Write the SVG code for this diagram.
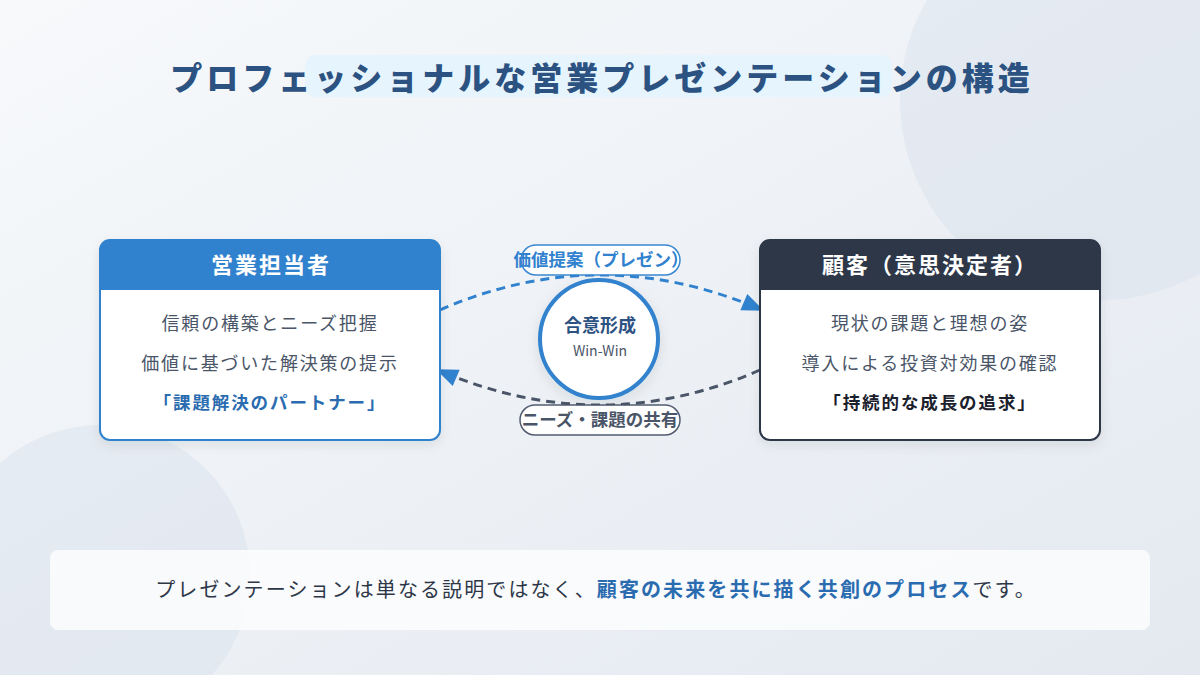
<svg xmlns="http://www.w3.org/2000/svg" width="1200" height="675" viewBox="0 0 1200 675">
<defs>
<linearGradient id="bg" x1="0" y1="0" x2="1" y2="1">
<stop offset="0" stop-color="#f7f9fb"/>
<stop offset="1" stop-color="#e4e9f0"/>
</linearGradient>
<filter id="sh" x="-10%" y="-10%" width="120%" height="130%">
<feDropShadow dx="0" dy="4" stdDeviation="6" flood-color="#1a2a40" flood-opacity="0.10"/>
</filter>
<marker id="ah" viewBox="0 0 10 10" refX="9" refY="5" markerWidth="24" markerHeight="22" markerUnits="userSpaceOnUse" orient="auto">
<path d="M0,1 L10,5 L0,9 Z" fill="#3182ce"/>
</marker>
<style>
text{font-family:"Noto Sans CJK JP","Noto Sans",sans-serif;text-anchor:middle}
.title{font-size:32px;font-weight:900;fill:#2c5282;letter-spacing:4px}
.hdr{font-size:22px;font-weight:700;fill:#ffffff;letter-spacing:2px}
.body{font-size:18px;fill:#4a5568;letter-spacing:1.8px}
.keyL{font-size:17.5px;font-weight:700;fill:#2b6cb0;letter-spacing:1.9px}
.keyR{font-size:17.5px;font-weight:700;fill:#1a202c;letter-spacing:1.9px}
.lbl{font-size:17.5px;font-weight:700}
.foot{font-size:20px;fill:#2d3748;letter-spacing:2.1px}
.conn{fill:none;stroke-width:3;stroke-dasharray:9 6}
</style>
</defs>
<rect width="1200" height="675" fill="url(#bg)"/>
<circle cx="1100" cy="100" r="200" fill="#d5deea" opacity="0.4"/>
<circle cx="100" cy="575" r="150" fill="#d5deea" opacity="0.4"/>

<g id="title">
<rect x="305" y="55" width="587" height="42" rx="10" fill="#e6f4fd"/>
<text class="title" x="602" y="90">プロフェッショナルな営業プレゼンテーションの構造</text>
</g>

<g id="connectors">
<path class="conn" d="M440,310 Q600,240 762,310" stroke="#3182ce" marker-end="url(#ah)"/>
<path class="conn" d="M760,370 Q600,440 438,370" stroke="#4a5568" marker-end="url(#ah)"/>
</g>

<g id="sales">
<rect x="100" y="240" width="340" height="200" rx="10" fill="#ffffff" filter="url(#sh)"/>
<path d="M100,290 V250 A10,10 0 0 1 110,240 H430 A10,10 0 0 1 440,250 V290 Z" fill="#3182ce"/>
<rect x="100" y="240" width="340" height="200" rx="10" fill="none" stroke="#3182ce" stroke-width="2"/>
<text class="hdr" x="271" y="273">営業担当者</text>
<text class="body" x="270" y="330">信頼の構築とニーズ把握</text>
<text class="body" x="270" y="370">価値に基づいた解決策の提示</text>
<text class="keyL" x="270" y="409">「課題解決のパートナー」</text>
</g>

<g id="customer">
<rect x="760" y="240" width="340" height="200" rx="10" fill="#ffffff" filter="url(#sh)"/>
<path d="M760,290 V250 A10,10 0 0 1 770,240 H1090 A10,10 0 0 1 1100,250 V290 Z" fill="#2d3748"/>
<rect x="760" y="240" width="340" height="200" rx="10" fill="none" stroke="#2d3748" stroke-width="2"/>
<text class="hdr" x="930" y="273">顧客（意思決定者）</text>
<text class="body" x="930" y="330">現状の課題と理想の姿</text>
<text class="body" x="930" y="370">導入による投資対効果の確認</text>
<text class="keyR" x="930" y="409">「持続的な成長の追求」</text>
</g>

<g id="agreement">
<circle cx="599" cy="339" r="59" fill="#ffffff" stroke="#3182ce" stroke-width="4" filter="url(#sh)"/>
<text x="600" y="332" style="font-size:18px;font-weight:700;fill:#2c5282">合意形成</text>
<text x="600" y="356" style="font-size:14px;fill:#4a5568">Win-Win</text>
</g>

<g id="label-top">
<rect x="521" y="245" width="159" height="30" rx="15" fill="#ffffff" stroke="#3182ce" stroke-width="1.5" opacity="0.95"/>
<text class="lbl" x="601" y="266" fill="#3182ce">価値提案（プレゼン）</text>
</g>

<g id="label-bottom">
<rect x="520" y="405" width="160" height="30" rx="15" fill="#ffffff" stroke="#4a5568" stroke-width="1.5" opacity="0.95"/>
<text class="lbl" x="600" y="426" fill="#4a5568">ニーズ・課題の共有</text>
</g>

<g id="footer">
<rect x="50" y="550" width="1100" height="80" rx="8" fill="#ffffff" opacity="0.75"/>
<text class="foot" x="596" y="597">プレゼンテーションは単なる説明ではなく、<tspan style="font-weight:700;fill:#2b6cb0">顧客の未来を共に描く共創のプロセス</tspan>です。</text>
</g>
</svg>
